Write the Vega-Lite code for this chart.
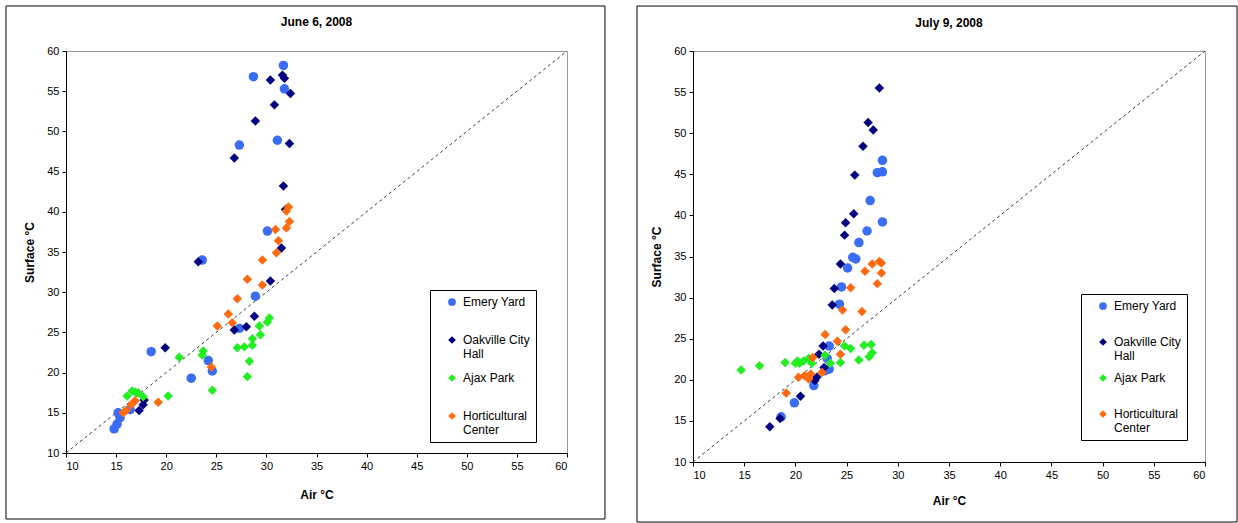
{
  "$schema": "https://vega.github.io/schema/vega-lite/v6.json",
  "padding": {"left": 4, "top": 4, "right": 0, "bottom": 0},
  "background": "white",
  "spacing": 29,
  "datasets": {
    "one": [{}],
    "june": [
      {"s": "Emery Yard", "air": 31.7, "surf": 58.2},
      {"s": "Emery Yard", "air": 28.7, "surf": 56.8},
      {"s": "Emery Yard", "air": 31.8, "surf": 55.3},
      {"s": "Emery Yard", "air": 31.1, "surf": 48.9},
      {"s": "Emery Yard", "air": 27.3, "surf": 48.3},
      {"s": "Emery Yard", "air": 23.6, "surf": 34.0},
      {"s": "Emery Yard", "air": 30.1, "surf": 37.6},
      {"s": "Emery Yard", "air": 28.9, "surf": 29.5},
      {"s": "Emery Yard", "air": 27.3, "surf": 25.5},
      {"s": "Emery Yard", "air": 18.5, "surf": 22.6},
      {"s": "Emery Yard", "air": 24.2, "surf": 21.5},
      {"s": "Emery Yard", "air": 24.6, "surf": 20.2},
      {"s": "Emery Yard", "air": 22.5, "surf": 19.3},
      {"s": "Emery Yard", "air": 16.4, "surf": 15.4},
      {"s": "Emery Yard", "air": 15.2, "surf": 15.0},
      {"s": "Emery Yard", "air": 15.4, "surf": 14.4},
      {"s": "Emery Yard", "air": 15.1, "surf": 13.6},
      {"s": "Emery Yard", "air": 14.8, "surf": 13.0},
      {"s": "Oakville City Hall", "air": 30.4, "surf": 56.4},
      {"s": "Oakville City Hall", "air": 31.6, "surf": 57.0},
      {"s": "Oakville City Hall", "air": 31.8, "surf": 56.6},
      {"s": "Oakville City Hall", "air": 32.4, "surf": 54.7},
      {"s": "Oakville City Hall", "air": 30.8, "surf": 53.3},
      {"s": "Oakville City Hall", "air": 28.9, "surf": 51.3},
      {"s": "Oakville City Hall", "air": 32.3, "surf": 48.5},
      {"s": "Oakville City Hall", "air": 26.8, "surf": 46.7},
      {"s": "Oakville City Hall", "air": 31.7, "surf": 43.2},
      {"s": "Oakville City Hall", "air": 31.9, "surf": 40.3},
      {"s": "Oakville City Hall", "air": 31.5, "surf": 35.5},
      {"s": "Oakville City Hall", "air": 23.2, "surf": 33.8},
      {"s": "Oakville City Hall", "air": 30.4, "surf": 31.4},
      {"s": "Oakville City Hall", "air": 28.8, "surf": 27.0},
      {"s": "Oakville City Hall", "air": 26.8, "surf": 25.3},
      {"s": "Oakville City Hall", "air": 28.0, "surf": 25.7},
      {"s": "Oakville City Hall", "air": 19.9, "surf": 23.1},
      {"s": "Oakville City Hall", "air": 17.3, "surf": 15.3},
      {"s": "Oakville City Hall", "air": 17.7, "surf": 16.0},
      {"s": "Oakville City Hall", "air": 17.8, "surf": 16.6},
      {"s": "Ajax Park", "air": 30.3, "surf": 26.8},
      {"s": "Ajax Park", "air": 30.1, "surf": 26.3},
      {"s": "Ajax Park", "air": 29.3, "surf": 25.8},
      {"s": "Ajax Park", "air": 29.4, "surf": 24.7},
      {"s": "Ajax Park", "air": 28.6, "surf": 24.2},
      {"s": "Ajax Park", "air": 28.6, "surf": 23.4},
      {"s": "Ajax Park", "air": 27.8, "surf": 23.2},
      {"s": "Ajax Park", "air": 27.1, "surf": 23.1},
      {"s": "Ajax Park", "air": 28.3, "surf": 21.4},
      {"s": "Ajax Park", "air": 28.1, "surf": 19.5},
      {"s": "Ajax Park", "air": 21.3, "surf": 21.9},
      {"s": "Ajax Park", "air": 23.7, "surf": 22.7},
      {"s": "Ajax Park", "air": 23.6, "surf": 22.2},
      {"s": "Ajax Park", "air": 24.6, "surf": 17.8},
      {"s": "Ajax Park", "air": 20.2, "surf": 17.1},
      {"s": "Ajax Park", "air": 16.1, "surf": 17.1},
      {"s": "Ajax Park", "air": 16.6, "surf": 17.7},
      {"s": "Ajax Park", "air": 17.2, "surf": 17.5},
      {"s": "Ajax Park", "air": 17.7, "surf": 17.0},
      {"s": "Ajax Park", "air": 16.9, "surf": 17.6},
      {"s": "Horticultural Center", "air": 32.2, "surf": 40.6},
      {"s": "Horticultural Center", "air": 32.0, "surf": 40.1},
      {"s": "Horticultural Center", "air": 32.3, "surf": 38.8},
      {"s": "Horticultural Center", "air": 32.0, "surf": 38.0},
      {"s": "Horticultural Center", "air": 30.9, "surf": 37.8},
      {"s": "Horticultural Center", "air": 31.2, "surf": 36.4},
      {"s": "Horticultural Center", "air": 31.0, "surf": 34.9},
      {"s": "Horticultural Center", "air": 29.6, "surf": 34.0},
      {"s": "Horticultural Center", "air": 28.1, "surf": 31.6},
      {"s": "Horticultural Center", "air": 29.6, "surf": 30.9},
      {"s": "Horticultural Center", "air": 27.1, "surf": 29.2},
      {"s": "Horticultural Center", "air": 26.2, "surf": 27.3},
      {"s": "Horticultural Center", "air": 26.6, "surf": 26.2},
      {"s": "Horticultural Center", "air": 25.1, "surf": 25.8},
      {"s": "Horticultural Center", "air": 24.5, "surf": 20.7},
      {"s": "Horticultural Center", "air": 19.2, "surf": 16.3},
      {"s": "Horticultural Center", "air": 16.9, "surf": 16.5},
      {"s": "Horticultural Center", "air": 16.5, "surf": 16.0},
      {"s": "Horticultural Center", "air": 16.0, "surf": 15.3},
      {"s": "Horticultural Center", "air": 15.7, "surf": 15.0}
    ],
    "july": [
      {"s": "Emery Yard", "air": 28.5, "surf": 46.7},
      {"s": "Emery Yard", "air": 28.0, "surf": 45.2},
      {"s": "Emery Yard", "air": 28.5, "surf": 45.3},
      {"s": "Emery Yard", "air": 27.3, "surf": 41.8},
      {"s": "Emery Yard", "air": 28.5, "surf": 39.2},
      {"s": "Emery Yard", "air": 27.0, "surf": 38.1},
      {"s": "Emery Yard", "air": 26.2, "surf": 36.7},
      {"s": "Emery Yard", "air": 25.6, "surf": 34.9},
      {"s": "Emery Yard", "air": 25.9, "surf": 34.7},
      {"s": "Emery Yard", "air": 25.1, "surf": 33.6},
      {"s": "Emery Yard", "air": 24.5, "surf": 31.3},
      {"s": "Emery Yard", "air": 24.3, "surf": 29.2},
      {"s": "Emery Yard", "air": 23.3, "surf": 24.1},
      {"s": "Emery Yard", "air": 23.1, "surf": 22.6},
      {"s": "Emery Yard", "air": 23.3, "surf": 21.3},
      {"s": "Emery Yard", "air": 22.9, "surf": 21.1},
      {"s": "Emery Yard", "air": 21.8, "surf": 19.3},
      {"s": "Emery Yard", "air": 19.9, "surf": 17.2},
      {"s": "Emery Yard", "air": 18.6, "surf": 15.5},
      {"s": "Oakville City Hall", "air": 28.2, "surf": 55.5},
      {"s": "Oakville City Hall", "air": 27.1, "surf": 51.3},
      {"s": "Oakville City Hall", "air": 27.6, "surf": 50.4},
      {"s": "Oakville City Hall", "air": 26.6, "surf": 48.4},
      {"s": "Oakville City Hall", "air": 25.8, "surf": 44.9},
      {"s": "Oakville City Hall", "air": 25.7, "surf": 40.2},
      {"s": "Oakville City Hall", "air": 24.9, "surf": 39.1},
      {"s": "Oakville City Hall", "air": 24.8, "surf": 37.6},
      {"s": "Oakville City Hall", "air": 24.4, "surf": 34.1},
      {"s": "Oakville City Hall", "air": 23.8, "surf": 31.1},
      {"s": "Oakville City Hall", "air": 23.6, "surf": 29.1},
      {"s": "Oakville City Hall", "air": 22.7, "surf": 24.1},
      {"s": "Oakville City Hall", "air": 22.3, "surf": 23.1},
      {"s": "Oakville City Hall", "air": 22.8, "surf": 21.5},
      {"s": "Oakville City Hall", "air": 22.1, "surf": 20.3},
      {"s": "Oakville City Hall", "air": 21.9, "surf": 19.9},
      {"s": "Oakville City Hall", "air": 20.5, "surf": 18.0},
      {"s": "Oakville City Hall", "air": 18.5, "surf": 15.3},
      {"s": "Oakville City Hall", "air": 17.5, "surf": 14.3},
      {"s": "Ajax Park", "air": 24.8, "surf": 24.1},
      {"s": "Ajax Park", "air": 25.4, "surf": 23.8},
      {"s": "Ajax Park", "air": 26.7, "surf": 24.2},
      {"s": "Ajax Park", "air": 27.4, "surf": 24.3},
      {"s": "Ajax Park", "air": 27.5, "surf": 23.3},
      {"s": "Ajax Park", "air": 27.2, "surf": 22.8},
      {"s": "Ajax Park", "air": 26.2, "surf": 22.4},
      {"s": "Ajax Park", "air": 24.4, "surf": 22.1},
      {"s": "Ajax Park", "air": 23.4, "surf": 22.0},
      {"s": "Ajax Park", "air": 22.9, "surf": 23.0},
      {"s": "Ajax Park", "air": 19.0, "surf": 22.1},
      {"s": "Ajax Park", "air": 20.2, "surf": 22.3},
      {"s": "Ajax Park", "air": 20.4, "surf": 22.0},
      {"s": "Ajax Park", "air": 20.8, "surf": 22.3},
      {"s": "Ajax Park", "air": 21.3, "surf": 22.6},
      {"s": "Ajax Park", "air": 21.6, "surf": 22.0},
      {"s": "Ajax Park", "air": 20.0, "surf": 22.0},
      {"s": "Ajax Park", "air": 14.7, "surf": 21.2},
      {"s": "Ajax Park", "air": 16.5, "surf": 21.7},
      {"s": "Horticultural Center", "air": 27.5, "surf": 34.1},
      {"s": "Horticultural Center", "air": 28.2, "surf": 34.4},
      {"s": "Horticultural Center", "air": 28.4, "surf": 34.2},
      {"s": "Horticultural Center", "air": 26.8, "surf": 33.2},
      {"s": "Horticultural Center", "air": 28.4, "surf": 33.0},
      {"s": "Horticultural Center", "air": 28.0, "surf": 31.7},
      {"s": "Horticultural Center", "air": 25.4, "surf": 31.2},
      {"s": "Horticultural Center", "air": 24.6, "surf": 28.5},
      {"s": "Horticultural Center", "air": 26.5, "surf": 28.3},
      {"s": "Horticultural Center", "air": 24.9, "surf": 26.1},
      {"s": "Horticultural Center", "air": 22.9, "surf": 25.5},
      {"s": "Horticultural Center", "air": 24.1, "surf": 24.7},
      {"s": "Horticultural Center", "air": 24.4, "surf": 23.1},
      {"s": "Horticultural Center", "air": 21.7, "surf": 22.7},
      {"s": "Horticultural Center", "air": 22.6, "surf": 20.9},
      {"s": "Horticultural Center", "air": 20.3, "surf": 20.3},
      {"s": "Horticultural Center", "air": 20.9, "surf": 20.5},
      {"s": "Horticultural Center", "air": 21.3, "surf": 20.1},
      {"s": "Horticultural Center", "air": 21.5, "surf": 20.7},
      {"s": "Horticultural Center", "air": 19.1, "surf": 18.4}
    ]
  },
  "resolve": {"legend": {"color": "independent", "shape": "independent"}},
  "hconcat": [
    {
      "width": 501,
      "height": 402,
      "title": {"text": "June 6, 2008", "offset": -33, "baseline": "alphabetic"},
      "layer": [
        {
          "data": {"name": "one"},
          "mark": {"type": "rect", "fill": null, "stroke": "black", "strokeWidth": 1, "clip": false},
          "encoding": {
            "x": {"datum": 4.01, "type": "quantitative", "scale": {"domain": [10, 60], "nice": false, "zero": false}, "axis": {"title": "Air °C", "values": [10, 15, 20, 25, 30, 35, 40, 45, 50, 55, 60], "titlePadding": 18}},
            "x2": {"datum": 63.79},
            "y": {"datum": 65.6, "type": "quantitative", "scale": {"domain": [10, 60], "nice": false, "zero": false}, "axis": {"title": "Surface °C", "values": [10, 15, 20, 25, 30, 35, 40, 45, 50, 55, 60], "titlePadding": 10}},
            "y2": {"datum": 1.79}
          }
        },
        {
          "data": {"name": "one"},
          "mark": {"type": "rule", "strokeDash": [3, 3], "color": "#222222", "strokeWidth": 0.9},
          "encoding": {
            "x": {"datum": 10, "type": "quantitative"},
            "x2": {"datum": 60},
            "y": {"datum": 10, "type": "quantitative"},
            "y2": {"datum": 60}
          }
        },
        {
          "data": {"name": "june"},
          "mark": {"type": "point", "filled": true, "opacity": 1, "size": 90},
          "encoding": {
            "x": {"field": "air", "type": "quantitative"},
            "y": {"field": "surf", "type": "quantitative"},
            "color": {"field": "s", "type": "nominal", "sort": null,
              "scale": {"domain": ["Emery Yard", "Oakville City Hall", "Ajax Park", "Horticultural Center"], "range": ["#3A6CF4", "#000080", "#22EE22", "#FF6A10"]},
              "legend": {"orient": "none", "legendX": 364, "legendY": 239, "title": null, "rowPadding": 12,
                "labelExpr": "datum.label == 'Oakville City Hall' ? ['Oakville City', 'Hall'] : datum.label == 'Horticultural Center' ? ['Horticultural', 'Center'] : [datum.label, ' ']"}},
            "shape": {"field": "s", "type": "nominal", "sort": null,
              "scale": {"domain": ["Emery Yard", "Oakville City Hall", "Ajax Park", "Horticultural Center"], "range": ["circle", "diamond", "diamond", "diamond"]},
              "legend": {"orient": "none", "legendX": 364, "legendY": 239, "title": null, "rowPadding": 12,
                "labelExpr": "datum.label == 'Oakville City Hall' ? ['Oakville City', 'Hall'] : datum.label == 'Horticultural Center' ? ['Horticultural', 'Center'] : [datum.label, ' ']"}}
          }
        }
      ]
    },
    {
      "width": 512,
      "height": 411,
      "title": {"text": "July 9, 2008", "offset": -33, "baseline": "alphabetic"},
      "layer": [
        {
          "data": {"name": "one"},
          "mark": {"type": "rect", "fill": null, "stroke": "black", "strokeWidth": 1, "clip": false},
          "encoding": {
            "x": {"datum": 4.53, "type": "quantitative", "scale": {"domain": [10, 60], "nice": false, "zero": false}, "axis": {"title": "Air °C", "values": [10, 15, 20, 25, 30, 35, 40, 45, 50, 55, 60], "titlePadding": 15}},
            "x2": {"datum": 63.13},
            "y": {"datum": 65.47, "type": "quantitative", "scale": {"domain": [10, 60], "nice": false, "zero": false}, "axis": {"title": "Surface °C", "values": [10, 15, 20, 25, 30, 35, 40, 45, 50, 55, 60], "titlePadding": 10}},
            "y2": {"datum": 2.7}
          }
        },
        {
          "data": {"name": "one"},
          "mark": {"type": "rule", "strokeDash": [3, 3], "color": "#222222", "strokeWidth": 0.9},
          "encoding": {
            "x": {"datum": 10, "type": "quantitative"},
            "x2": {"datum": 60},
            "y": {"datum": 10, "type": "quantitative"},
            "y2": {"datum": 60}
          }
        },
        {
          "data": {"name": "july"},
          "mark": {"type": "point", "filled": true, "opacity": 1, "size": 90},
          "encoding": {
            "x": {"field": "air", "type": "quantitative"},
            "y": {"field": "surf", "type": "quantitative"},
            "color": {"field": "s", "type": "nominal", "sort": null,
              "scale": {"domain": ["Emery Yard", "Oakville City Hall", "Ajax Park", "Horticultural Center"], "range": ["#3A6CF4", "#000080", "#22EE22", "#FF6A10"]},
              "legend": {"orient": "none", "legendX": 388, "legendY": 243, "title": null, "rowPadding": 10,
                "labelExpr": "datum.label == 'Oakville City Hall' ? ['Oakville City', 'Hall'] : datum.label == 'Horticultural Center' ? ['Horticultural', 'Center'] : [datum.label, ' ']"}},
            "shape": {"field": "s", "type": "nominal", "sort": null,
              "scale": {"domain": ["Emery Yard", "Oakville City Hall", "Ajax Park", "Horticultural Center"], "range": ["circle", "diamond", "diamond", "diamond"]},
              "legend": {"orient": "none", "legendX": 388, "legendY": 243, "title": null, "rowPadding": 10,
                "labelExpr": "datum.label == 'Oakville City Hall' ? ['Oakville City', 'Hall'] : datum.label == 'Horticultural Center' ? ['Horticultural', 'Center'] : [datum.label, ' ']"}}
          }
        }
      ]
    }
  ],
  "config": {
    "font": "Liberation Sans",
    "view": {"stroke": "#999999", "fill": "white"},
    "title": {"font": "Liberation Sans", "fontSize": 12, "fontWeight": "bold", "color": "black", "anchor": "middle"},
    "axis": {"grid": false, "domainColor": "black", "domainWidth": 1, "tickColor": "black", "tickSize": 4,
      "labelFont": "Liberation Sans", "labelFontSize": 11, "labelColor": "black", "labelPadding": 3,
      "titleFont": "Liberation Sans", "titleFontSize": 12, "titleFontWeight": "bold", "titleColor": "black"},
    "legend": {"strokeColor": "black", "fillColor": "white", "padding": 6, "symbolOffset": 10, "labelOffset": 5, "labelFont": "Liberation Sans",
      "labelFontSize": 12, "labelColor": "black", "symbolSize": 60, "labelLimit": 200, "symbolStrokeWidth": 0}
  }
}
